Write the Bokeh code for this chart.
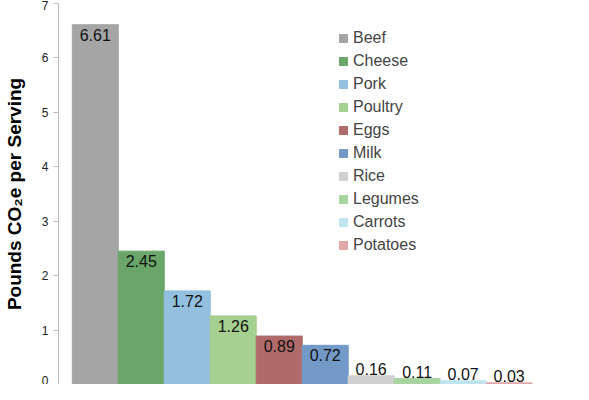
from bokeh.plotting import figure
from bokeh.models import ColumnDataSource, Range1d
from bokeh.core.properties import value
from bokeh.embed import file_html
from bokeh.resources import INLINE

foods = ["Beef", "Cheese", "Pork", "Poultry", "Eggs", "Milk", "Rice", "Legumes", "Carrots", "Potatoes"]
co2e = [6.61, 2.45, 1.72, 1.26, 0.89, 0.72, 0.16, 0.11, 0.07, 0.03]
colors = ["#a5a5a5", "#6aa56a", "#93c0de", "#a6d08f", "#b06a6a",
          "#7399c6", "#d0d0d0", "#a8d4a0", "#bfe4f0", "#e0a8a8"]

xs = list(range(len(foods)))
labels = [f"{v:.2f}" for v in co2e]
src = ColumnDataSource(dict(x=xs, food=foods, val=co2e, color=colors))

# tall bars get the label inside, short ones just above
big = [i for i, v in enumerate(co2e) if v >= 0.5]
small = [i for i, v in enumerate(co2e) if v < 0.5]
src_in = ColumnDataSource(dict(x=[xs[i] for i in big], val=[co2e[i] for i in big], lab=[labels[i] for i in big]))
src_up = ColumnDataSource(dict(x=[xs[i] for i in small], val=[co2e[i] for i in small], lab=[labels[i] for i in small]))

p = figure(width=573, height=384, output_backend="svg", toolbar_location=None,
           x_range=Range1d(-0.8, 10.4), y_range=Range1d(0, 7))
p.min_border_left = 0
p.min_border_top = 3
p.min_border_right = 0
p.min_border_bottom = 0

p.vbar(x="x", top="val", width=1, color="color", source=src, legend_field="food")
p.text(x="x", y="val", text="lab", source=src_in, text_align="center", text_baseline="top",
       y_offset=4, text_font_size="16px", text_color="#111111", text_font=value("Liberation Sans"))
p.text(x="x", y="val", text="lab", source=src_up, text_align="center", text_baseline="bottom",
       y_offset=-1, text_font_size="16px", text_color="#111111", text_font=value("Liberation Sans"))

p.xaxis.visible = False
p.xgrid.visible = False
p.ygrid.visible = False
p.outline_line_color = None
p.yaxis.axis_label = "Pounds CO₂e per Serving"
p.yaxis.axis_label_text_font = "Liberation Sans"
p.yaxis.axis_label_text_font_style = "bold"
p.yaxis.axis_label_text_font_size = "19px"
p.yaxis.axis_label_text_color = "#000000"
p.yaxis.axis_label_standoff = 14
p.yaxis.major_label_text_font = "Liberation Sans"
p.yaxis.major_label_text_font_size = "12px"
p.yaxis.major_label_text_color = "#222222"
p.yaxis.axis_line_color = "#bbbbbb"
p.yaxis.major_tick_line_color = "#bbbbbb"
p.yaxis.major_tick_in = 0
p.yaxis.major_tick_out = 5
p.yaxis.minor_tick_line_color = None
p.yaxis.ticker = list(range(8))

leg = p.legend[0]
leg.location = (280, 130)
leg.background_fill_alpha = 0
leg.border_line_color = None
leg.label_text_font = "Liberation Sans"
leg.label_text_font_size = "16px"
leg.glyph_width = 10
leg.glyph_height = 10
leg.spacing = 5
leg.label_height = 18
leg.padding = 0

open("out.html", "w").write(file_html(p, INLINE))
